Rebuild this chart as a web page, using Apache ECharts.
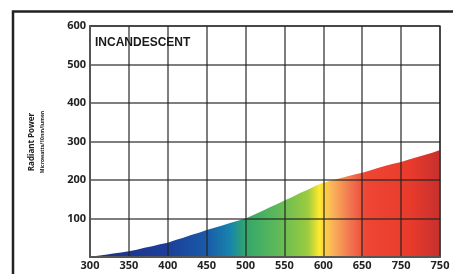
<!DOCTYPE html>
<html>
<head>
<meta charset="utf-8">
<script src="https://cdn.jsdelivr.net/npm/echarts@6/dist/echarts.min.js"></script>
<style>
  html, body { margin: 0; padding: 0; background: #fff; }
  #chart { width: 453px; height: 274px; }
</style>
</head>
<body>
<div id="chart"></div>
<script>
// wavelength (nm) and radiant power
const wavelengths = [300, 310, 320, 330, 340, 350, 360, 370, 380, 390, 400, 410, 420, 430, 440, 450,
  460, 470, 480, 490, 500, 510, 520, 530, 540, 550, 560, 570, 580, 590, 600, 610, 620, 630, 640, 650,
  660, 670, 680, 690, 700, 710, 720, 730, 740, 750]
const power = [0, 3, 6, 9, 12, 15, 19, 24, 28, 33, 37, 44, 50, 57, 63, 70,
  76, 82, 88, 94, 100, 109, 118, 128, 137, 147, 156, 166, 175, 185, 193, 199, 204, 209, 214, 219,
  225, 231, 237, 242, 247, 253, 259, 265, 271, 278]
// the original prints 750 twice at the end
const xTickLabels = ['300', '350', '400', '450', '500', '550', '600', '650', '750', '750']
const yTickValues = [100, 200, 300, 400, 500, 600]

// spectrum colours along the x axis
const spectrumStops = [
  [300, '#1d2f86'], [400, '#1c3f9a'], [450, '#1a5aa8'], [480, '#1784ad'],
  [500, '#33a66a'], [540, '#5db95a'], [580, '#9ccb3e'], [595, '#ffe82e'],
  [612, '#f9b25a'], [635, '#f1744f'], [655, '#ee4635'], [710, '#e93b2c'], [750, '#c8302c']
]

const chart = echarts.init(document.getElementById('chart'))

const gridLine = { show: true, lineStyle: { color: 'rgba(35,35,35,0.78)', width: 1.5 } }

const option = {
  animation: false,
  grid: {
    left: 90, right: 13, top: 26, bottom: 17,
    show: true, borderColor: '#555', borderWidth: 1.5
  },
  xAxis: {
    type: 'value', min: 300, max: 750, interval: 50, z: 3,
    axisLine: { show: true, lineStyle: { color: '#555', width: 2 } },
    axisTick: { show: false },
    splitLine: gridLine,
    axisLabel: {
      color: '#222', fontWeight: 'bold', fontSize: 11, fontFamily: 'Open Sans', margin: 3,
      formatter: v => xTickLabels[Math.round((v - 300) / 50)]
    }
  },
  yAxis: {
    type: 'value', min: 0, max: 600, interval: 100, z: 3,
    axisLine: { show: true, lineStyle: { color: '#555', width: 2 } },
    axisTick: { show: false },
    splitLine: gridLine,
    axisLabel: {
      color: '#222', fontWeight: 'bold', fontSize: 11, fontFamily: 'Open Sans', margin: 4,
      formatter: v => (yTickValues.indexOf(v) >= 0 ? String(v) : '')
    }
  },
  graphic: [
    // outer frame (runs off the right and bottom edge)
    { type: 'polyline', shape: { points: [[13, 300], [13, 11.5], [460, 11.5]] },
      style: { stroke: '#222', lineWidth: 2.5, fill: null } },
    { type: 'text', left: 95, top: 37,
      style: { text: 'INCANDESCENT', font: 'bold 12px "Liberation Sans"', fill: '#1a1a1a' } },
    { type: 'text', x: 32, y: 142, rotation: Math.PI / 2,
      style: { text: 'Radiant Power', font: 'bold 8px "Open Sans"', fill: '#222',
        align: 'center', verticalAlign: 'middle' } },
    { type: 'text', x: 43, y: 142, rotation: Math.PI / 2,
      style: { text: 'Microwatts/10nm/lumen', font: 'bold 5px "Open Sans"', fill: '#222',
        align: 'center', verticalAlign: 'middle' } }
  ],
  series: [{
    type: 'line',
    data: wavelengths.map((w, i) => [w, power[i]]),
    showSymbol: false,
    lineStyle: { width: 0 },
    z: 1,
    areaStyle: {
      opacity: 1,
      color: new echarts.graphic.LinearGradient(0, 0, 1, 0,
        spectrumStops.map(s => ({ offset: (s[0] - 300) / 450, color: s[1] })))
    }
  }]
}

chart.setOption(option)
</script>
</body>
</html>
